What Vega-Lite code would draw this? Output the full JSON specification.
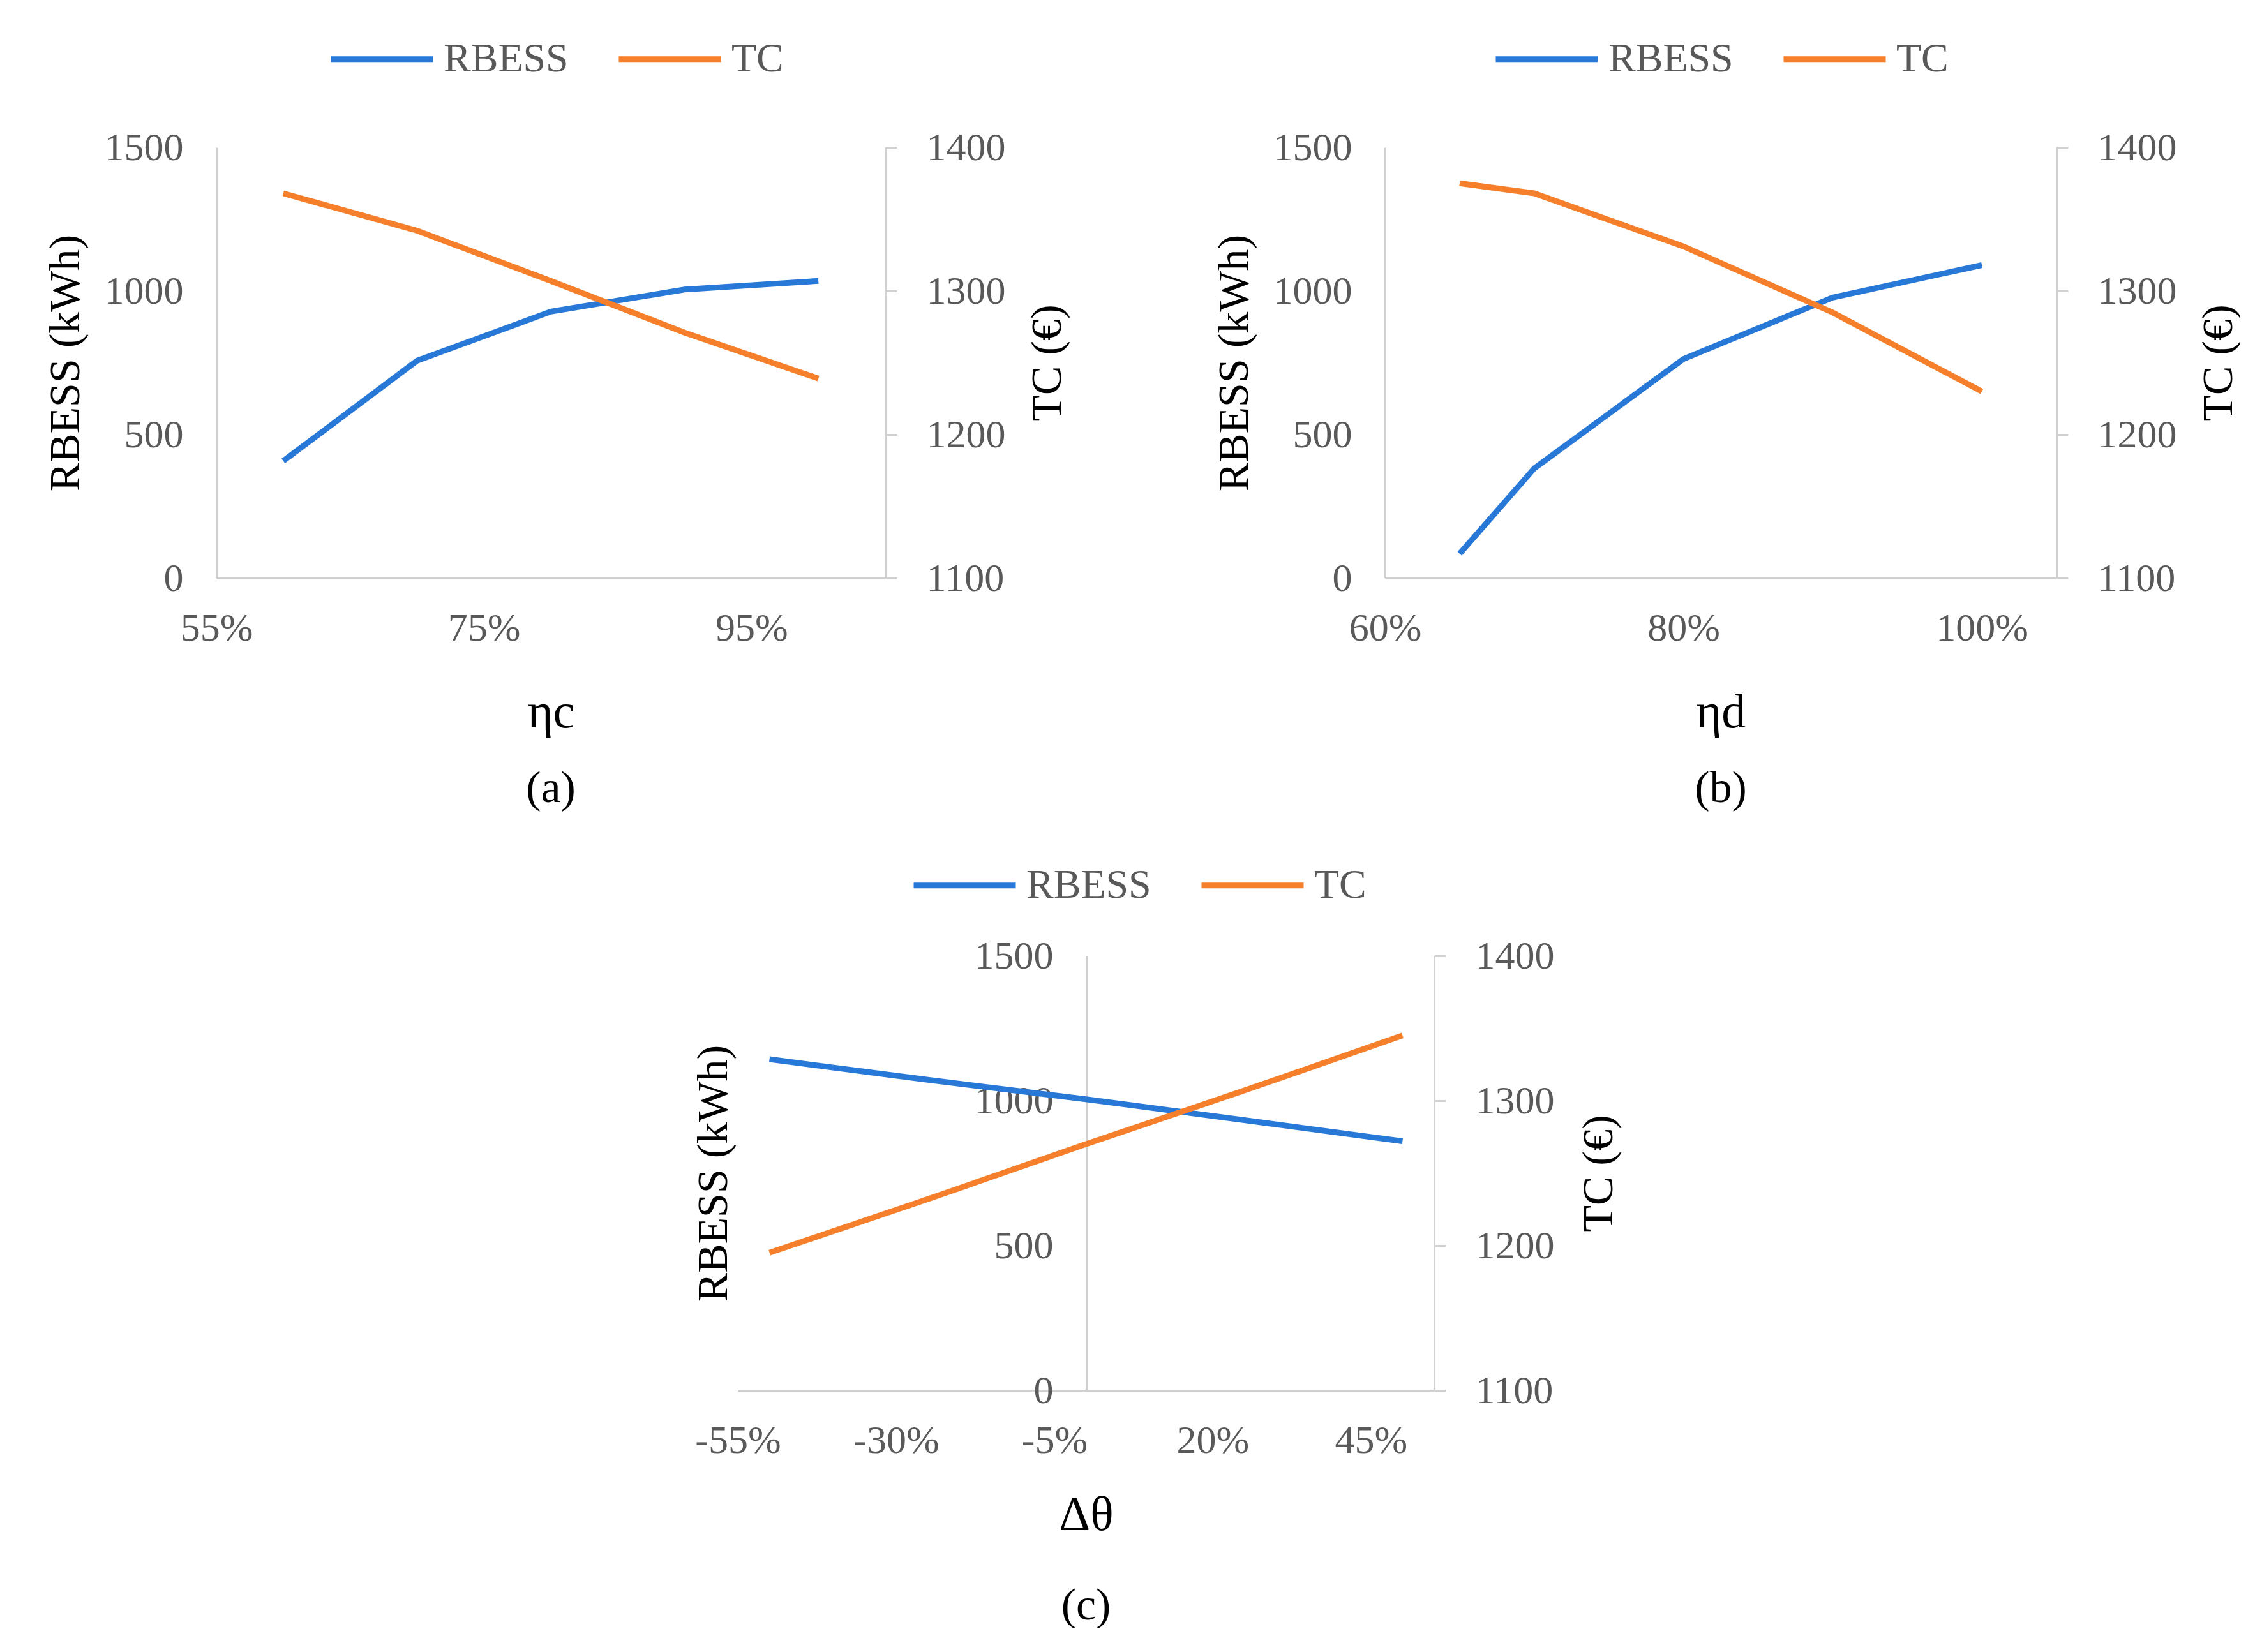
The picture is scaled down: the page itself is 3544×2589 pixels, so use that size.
{
  "$schema": "https://vega.github.io/schema/vega-lite/v6.json",
  "background": "white",
  "autosize": {"type": "pad"},
  "padding": {"left": 69, "top": 8, "right": 0, "bottom": 0},
  "bounds": "flush",
  "spacing": 1267,
  "resolve": {"scale": {"color": "independent", "x": "independent", "y": "independent"}, "legend": {"color": "independent"}},
  "vconcat": [
    {
      "bounds": "flush",
      "spacing": 783,
      "resolve": {"scale": {"color": "independent", "x": "independent", "y": "independent"}, "legend": {"color": "independent"}},
      "hconcat": [
        {
          "width": 1048,
          "height": 675,
          "title": {"text": "(a)"},
          "data": {"values": [
            {"eta": 0.6, "RBESS": 408, "TC": 1368},
            {"eta": 0.7, "RBESS": 757, "TC": 1342},
            {"eta": 0.8, "RBESS": 928, "TC": 1307},
            {"eta": 0.9, "RBESS": 1005, "TC": 1271},
            {"eta": 1.0, "RBESS": 1035, "TC": 1239}
          ]},
          "encoding": {
            "x": {"field": "eta", "type": "quantitative",
              "scale": {"domain": [0.55, 1.05], "nice": false, "zero": false},
              "axis": {"values": [0.55, 0.75, 0.95], "format": ".0%", "title": "ηc"}}
          },
          "layer": [
            {
              "mark": {"type": "line"},
              "encoding": {
                "y": {"field": "RBESS", "type": "quantitative",
                  "scale": {"domain": [0, 1500], "nice": false},
                  "axis": {"orient": "left", "values": [0, 500, 1000, 1500], "format": "d", "title": "RBESS (kWh)", "labelPadding": 52}},
                "color": {"datum": "RBESS", "type": "nominal",
                  "scale": {"domain": ["RBESS", "TC"], "range": ["#2878d8", "#f57f2a"]},
                  "legend": {"legendX": 175, "legendY": -223}}
              }
            },
            {
              "mark": {"type": "line"},
              "encoding": {
                "y": {"field": "TC", "type": "quantitative",
                  "scale": {"domain": [1100, 1400], "nice": false, "zero": false},
                  "axis": {"orient": "right", "values": [1100, 1200, 1300, 1400], "format": "d", "title": "TC (€)", "ticks": true, "tickSize": 18, "labelPadding": 46, "titlePadding": 32, "titleAngle": -90, "titleBaseline": "top"}},
                "color": {"datum": "TC", "type": "nominal"}
              }
            }
          ],
          "resolve": {"scale": {"y": "independent"}}
        },
        {
          "width": 1052,
          "height": 675,
          "title": {"text": "(b)"},
          "data": {"values": [
            {"eta": 0.65, "RBESS": 85, "TC": 1375},
            {"eta": 0.7, "RBESS": 382, "TC": 1368},
            {"eta": 0.8, "RBESS": 763, "TC": 1331},
            {"eta": 0.9, "RBESS": 977, "TC": 1285},
            {"eta": 1.0, "RBESS": 1090, "TC": 1230}
          ]},
          "encoding": {
            "x": {"field": "eta", "type": "quantitative",
              "scale": {"domain": [0.6, 1.05], "nice": false, "zero": false},
              "axis": {"values": [0.6, 0.8, 1.0], "format": ".0%", "title": "ηd"}}
          },
          "layer": [
            {
              "mark": {"type": "line"},
              "encoding": {
                "y": {"field": "RBESS", "type": "quantitative",
                  "scale": {"domain": [0, 1500], "nice": false},
                  "axis": {"orient": "left", "values": [0, 500, 1000, 1500], "format": "d", "title": "RBESS (kWh)", "labelPadding": 52}},
                "color": {"datum": "RBESS", "type": "nominal",
                  "scale": {"domain": ["RBESS", "TC"], "range": ["#2878d8", "#f57f2a"]},
                  "legend": {"legendX": 169, "legendY": -223}}
              }
            },
            {
              "mark": {"type": "line"},
              "encoding": {
                "y": {"field": "TC", "type": "quantitative",
                  "scale": {"domain": [1100, 1400], "nice": false, "zero": false},
                  "axis": {"orient": "right", "values": [1100, 1200, 1300, 1400], "format": "d", "title": "TC (€)", "ticks": true, "tickSize": 18, "labelPadding": 46, "titlePadding": 32, "titleAngle": -90, "titleBaseline": "top"}},
                "color": {"datum": "TC", "type": "nominal"}
              }
            }
          ],
          "resolve": {"scale": {"y": "independent"}}
        }
      ]
    },
    {
      "bounds": "flush",
      "spacing": 0,
      "resolve": {"scale": {"color": "independent", "x": "independent", "y": "independent"}, "legend": {"color": "independent"}},
      "hconcat": [
        {
          "width": 817,
          "height": 681,
          "data": {"values": []},
          "mark": {"type": "point", "opacity": 0},
          "encoding": {}
        },
        {
          "width": 1091,
          "height": 681,
          "title": {"text": "(c)", "offset": 71},
          "data": {"values": [
            {"dtheta": -0.5, "RBESS": 1143, "TC": 1195},
            {"dtheta": -0.25, "RBESS": 1072, "TC": 1232},
            {"dtheta": 0.0, "RBESS": 1005, "TC": 1270},
            {"dtheta": 0.25, "RBESS": 933, "TC": 1307},
            {"dtheta": 0.5, "RBESS": 860, "TC": 1345}
          ]},
          "encoding": {
            "x": {"field": "dtheta", "type": "quantitative",
              "scale": {"domain": [-0.55, 0.55], "nice": false, "zero": false},
              "axis": {"values": [-0.55, -0.3, -0.05, 0.2, 0.45], "labelExpr": "replace(format(datum.value, '.0%'), '−', '-')", "title": "Δθ", "titlePadding": 49}}
          },
          "layer": [
            {
              "mark": {"type": "line"},
              "encoding": {
                "y": {"field": "RBESS", "type": "quantitative",
                  "scale": {"domain": [0, 1500], "nice": false},
                  "axis": {"orient": "left", "offset": -546, "values": [0, 500, 1000, 1500], "format": "d", "title": "RBESS (kWh)", "labelPadding": 52, "titleX": -550}},
                "color": {"datum": "RBESS", "type": "nominal",
                  "scale": {"domain": ["RBESS", "TC"], "range": ["#2878d8", "#f57f2a"]},
                  "legend": {"legendX": 271, "legendY": -195}}
              }
            },
            {
              "mark": {"type": "line"},
              "encoding": {
                "y": {"field": "TC", "type": "quantitative",
                  "scale": {"domain": [1100, 1400], "nice": false, "zero": false},
                  "axis": {"orient": "right", "values": [1100, 1200, 1300, 1400], "format": "d", "title": "TC (€)", "ticks": true, "tickSize": 18, "labelPadding": 46, "titlePadding": 36, "titleAngle": -90, "titleBaseline": "top"}},
                "color": {"datum": "TC", "type": "nominal"}
              }
            }
          ],
          "resolve": {"scale": {"y": "independent"}}
        }
      ]
    }
  ],
  "config": {
    "font": "Liberation Serif",
    "view": {"stroke": null},
    "line": {"strokeWidth": 9},
    "axis": {
      "labelFont": "Liberation Serif",
      "labelFontSize": 62,
      "labelColor": "#595959",
      "labelFlush": false,
      "labelOverlap": false,
      "labelBound": false,
      "titleFont": "Liberation Serif",
      "titleFontSize": 68,
      "titleFontWeight": "normal",
      "titleColor": "#000000",
      "titlePadding": 26,
      "domainColor": "#d0d0d0",
      "domainWidth": 3,
      "ticks": false,
      "tickColor": "#d0d0d0",
      "tickWidth": 3,
      "grid": false
    },
    "axisX": {"labelPadding": 48, "titleFontSize": 76, "titlePadding": 64},
    "legend": {
      "orient": "none",
      "direction": "horizontal",
      "title": null,
      "symbolType": "stroke",
      "symbolSize": 25600,
      "symbolStrokeWidth": 9,
      "labelFont": "Liberation Serif",
      "labelFontSize": 64,
      "labelColor": "#595959",
      "labelLimit": 0,
      "labelOffset": 12,
      "columnPadding": 60
    },
    "title": {
      "orient": "bottom",
      "frame": "group",
      "anchor": "middle",
      "font": "Liberation Serif",
      "fontSize": 70,
      "fontWeight": "normal",
      "color": "#000000",
      "offset": 48
    }
  }
}
